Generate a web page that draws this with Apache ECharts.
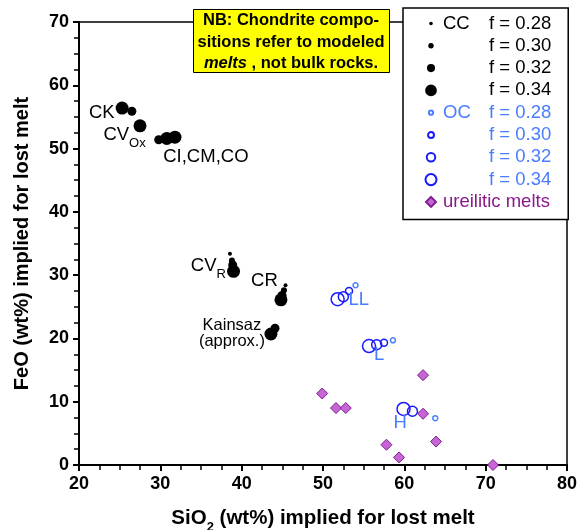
<!DOCTYPE html>
<html>
<head>
<meta charset="utf-8">
<script src="https://cdn.jsdelivr.net/npm/echarts@6/dist/echarts.min.js"></script>
<style>
  html, body { margin: 0; padding: 0; background: #fff; }
  #chart { width: 577px; height: 530px; }
</style>
</head>
<body>
<div id="chart"></div>
<script>
// 炭素質コンドライト (CC) の溶融組成 [SiO2, FeO]
const ccF28 = [[38.56, 33.4], [45.39, 28.4]];
const ccF30 = [[38.8, 32.3], [45.2, 27.6]];
const ccF32 = [[26.5, 55.9], [29.8, 51.4], [38.9, 31.6], [44.96, 26.8], [44.1, 21.6]];
const ccF34 = [[25.3, 56.4], [27.5, 53.6], [30.8, 51.6], [31.8, 51.8], [39.0, 30.6], [44.83, 26.1], [43.6, 20.7]];

// 普通コンドライト (OC)
const ocF28 = [[54.0, 28.4], [58.6, 19.7], [63.8, 7.4]];
const ocF30 = [[53.2, 27.5], [57.5, 19.3]];
const ocF32 = [[52.5, 26.6], [56.6, 19.0], [61.0, 8.5]];
const ocF34 = [[51.8, 26.2], [55.66, 18.8], [59.9, 8.85]];

// ureilitic melts
const ureilitic = [
    [49.9, 11.3], [51.6, 9.0], [52.8, 9.0], [62.3, 14.2], [62.3, 8.1],
    [57.8, 3.2], [59.35, 1.2], [63.9, 3.7], [70.9, 0.0]
];

// 図中ラベル
const labelNames = ['CK', 'CV{s|Ox}', 'CI,CM,CO', 'CV{s|R}', 'CR', 'Kainsaz\n(approx.)', 'LL', 'L', 'H'];
const labelPos = [[22.8, 55.6], [25.6, 52.3], [35.6, 48.7], [35.9, 31.6], [42.8, 29.1], [38.8, 20.85], [54.4, 26.1], [56.9, 17.4], [59.5, 6.6]];
const labelKind = ['cc', 'cc', 'cc', 'cc', 'cc', 'small', 'oc', 'oc', 'oc'];

const FONT = 'Arial, "Liberation Sans", sans-serif';
const OC_TEXT = '#4a7cff';
const OC_LINE = '#1a1aff';
const UR_FILL = '#c765d6';
const UR_LINE = '#7d1f8c';
const UR_TEXT = '#8a1a8a';

const ccSizes = [4, 6, 9, 13];
const ocSizes = [5, 7, 10, 13];

// 凡例アイコン (14x14 の枠の中に大きさの違う記号)
function circleIcon(d) {
    const r = d / 2;
    return 'path://M0,0 M14,14 M' + (7 - r) + ',7 A' + r + ',' + r + ' 0 1 1 ' + (7 + r) + ',7 A' + r + ',' + r + ' 0 1 1 ' + (7 - r) + ',7 Z';
}
const diamondIcon = 'path://M0,0 M14,14 M7,2 L12,7 L7,12 L2,7 Z';

const ccData = [ccF28, ccF30, ccF32, ccF34];
const ocData = [ocF28, ocF30, ocF32, ocF34];
const fLabels = ['0.28', '0.30', '0.32', '0.34'];

const series = [];
const legendData = [];
ccData.forEach((d, i) => {
    const name = 'CC f = ' + fLabels[i];
    series.push({
        name: name,
        type: 'scatter',
        data: d,
        symbol: 'circle',
        symbolSize: ccSizes[i],
        itemStyle: { color: '#000', opacity: 1 },
        z: 3 + i
    });
    legendData.push({ name: name, icon: circleIcon(ccSizes[i] * 0.9) });
});
ocData.forEach((d, i) => {
    const name = 'OC f = ' + fLabels[i];
    series.push({
        name: name,
        type: 'scatter',
        data: d,
        symbol: 'circle',
        symbolSize: ocSizes[i],
        itemStyle: {
            color: 'rgba(255,255,255,0)',
            borderColor: i === 0 ? '#4f80ff' : OC_LINE,
            borderWidth: 1.5,
            opacity: 1
        },
        z: 3 + i
    });
    legendData.push({ name: name, icon: circleIcon(ocSizes[i] * 0.85) });
});
series.push({
    name: 'ureilitic melts',
    type: 'scatter',
    data: ureilitic,
    symbol: 'diamond',
    symbolSize: [11, 11],
    itemStyle: { color: UR_FILL, borderColor: UR_LINE, borderWidth: 1, opacity: 1 },
    z: 8
});
legendData.push({ name: 'ureilitic melts', icon: diamondIcon });

// ラベル用の透明な系列
const labelColors = { cc: '#000', small: '#000', oc: OC_TEXT };
series.push({
    name: 'labels',
    type: 'scatter',
    symbolSize: 0,
    silent: true,
    z: 10,
    itemStyle: { opacity: 1 },
    data: labelNames.map((t, i) => ({
        value: labelPos[i],
        label: {
            show: true,
            position: 'inside',
            formatter: t.indexOf('{') >= 0 ? t.replace(/^([^{]*)/, '{m|$1}') : t,
            color: labelColors[labelKind[i]],
            fontSize: labelKind[i] === 'small' ? 16.5 : 18.5,
            lineHeight: labelKind[i] === 'small' ? 16 : 21,
            fontFamily: FONT,
            rich: {
                m: { fontSize: 18.5, lineHeight: 21, verticalAlign: 'bottom', color: '#000', fontFamily: FONT },
                s: { fontSize: 13, lineHeight: 14, verticalAlign: 'bottom', color: '#000', fontFamily: FONT, padding: [0, 0, -5, 0] }
            }
        }
    }))
});

const chart = echarts.init(document.getElementById('chart'));

const option = {
    animation: false,
    backgroundColor: '#fff',
    textStyle: { fontFamily: FONT },
    grid: {
        left: 79,
        right: 10,
        top: 22,
        bottom: 65,
        outerBoundsMode: 'none',
        containLabel: false,
        show: true,
        borderColor: '#000',
        borderWidth: 1.5,
        backgroundColor: 'transparent'
    },
    legend: {
        orient: 'vertical',
        left: 403,
        top: 8,
        data: legendData,
        selectedMode: false,
        backgroundColor: '#fff',
        borderColor: '#000',
        borderWidth: 1.5,
        padding: [6, 17, 8, 20],
        itemWidth: 14,
        itemHeight: 14,
        itemGap: 3.3,
        formatter: function (name) {
            if (name === 'ureilitic melts') return '{u|ureilitic melts}';
            const parts = name.split(' f = ');
            const g = parts[0];
            const first = parts[1] === '0.28';
            const key = g === 'CC' ? 'c' : 'o';
            return '{' + key + 'n|' + (first ? g : '') + '}{' + key + '|f = ' + parts[1] + '}';
        },
        textStyle: {
            fontFamily: FONT,
            fontSize: 18.5,
            rich: {
                cn: { width: 46, color: '#000', fontSize: 18.5, lineHeight: 17, fontFamily: FONT },
                c: { color: '#000', fontSize: 18.5, lineHeight: 17, fontFamily: FONT },
                on: { width: 46, color: OC_TEXT, fontSize: 18.5, lineHeight: 17, fontFamily: FONT },
                o: { color: OC_TEXT, fontSize: 18.5, lineHeight: 17, fontFamily: FONT },
                u: { color: UR_TEXT, fontSize: 18.5, lineHeight: 17, fontFamily: FONT }
            }
        }
    },
    xAxis: {
        type: 'value',
        min: 20,
        max: 80,
        interval: 10,
        name: 'SiO{sub|2} (wt%) implied for lost melt',
        nameLocation: 'middle',
        nameGap: 42,
        nameTextStyle: {
            fontFamily: FONT,
            fontWeight: 'bold',
            fontSize: 20.5,
            color: '#000',
            lineHeight: 22,
            rich: {
                sub: { fontFamily: FONT, fontWeight: 'bold', fontSize: 13, lineHeight: 13, verticalAlign: 'bottom', padding: [0, 0, -5, 0], color: '#000' }
            }
        },
        axisLine: { show: true, lineStyle: { color: '#000', width: 2 } },
        axisTick: { show: true, inside: false, length: 6, lineStyle: { color: '#000', width: 2 } },
        minorTick: { show: true, splitNumber: 4, length: 5, lineStyle: { color: '#000', width: 1.5 } },
        axisLabel: { color: '#000', fontWeight: 'bold', fontSize: 18, fontFamily: FONT, margin: 10 },
        splitLine: { show: false }
    },
    yAxis: {
        type: 'value',
        min: 0,
        max: 70,
        interval: 10,
        name: 'FeO (wt%) implied for lost melt',
        nameLocation: 'middle',
        nameGap: 47,
        nameTextStyle: { fontFamily: FONT, fontWeight: 'bold', fontSize: 20, color: '#000' },
        axisLine: { show: true, lineStyle: { color: '#000', width: 2 } },
        axisTick: { show: true, inside: false, length: 6, lineStyle: { color: '#000', width: 2 } },
        minorTick: { show: true, splitNumber: 4, length: 5, lineStyle: { color: '#000', width: 1.5 } },
        axisLabel: { color: '#000', fontWeight: 'bold', fontSize: 18, fontFamily: FONT, margin: 10 },
        splitLine: { show: false }
    },
    graphic: [
        {
            type: 'rect',
            left: 193,
            top: 9,
            shape: { width: 196, height: 63 },
            style: { fill: '#ffff00', stroke: '#000', lineWidth: 1 },
            z: 100
        },
        {
            type: 'text',
            x: 291,
            y: 10,
            style: {
                text: '{b|NB: Chondrite compo-}\n{b|sitions refer to modeled}\n{i|melts}{b| , not bulk rocks.}',
                x: 0,
                y: 0,
                align: 'center',
                verticalAlign: 'top',
                fill: '#000',
                rich: {
                    b: { fontFamily: FONT, fontWeight: 'bold', fontSize: 16.5, lineHeight: 21.5, fill: '#000' },
                    i: { fontFamily: FONT, fontWeight: 'bold', fontStyle: 'italic', fontSize: 16.5, lineHeight: 21.5, fill: '#000' }
                }
            },
            z: 101
        }
    ],
    series: series
};

chart.setOption(option);
</script>
</body>
</html>
